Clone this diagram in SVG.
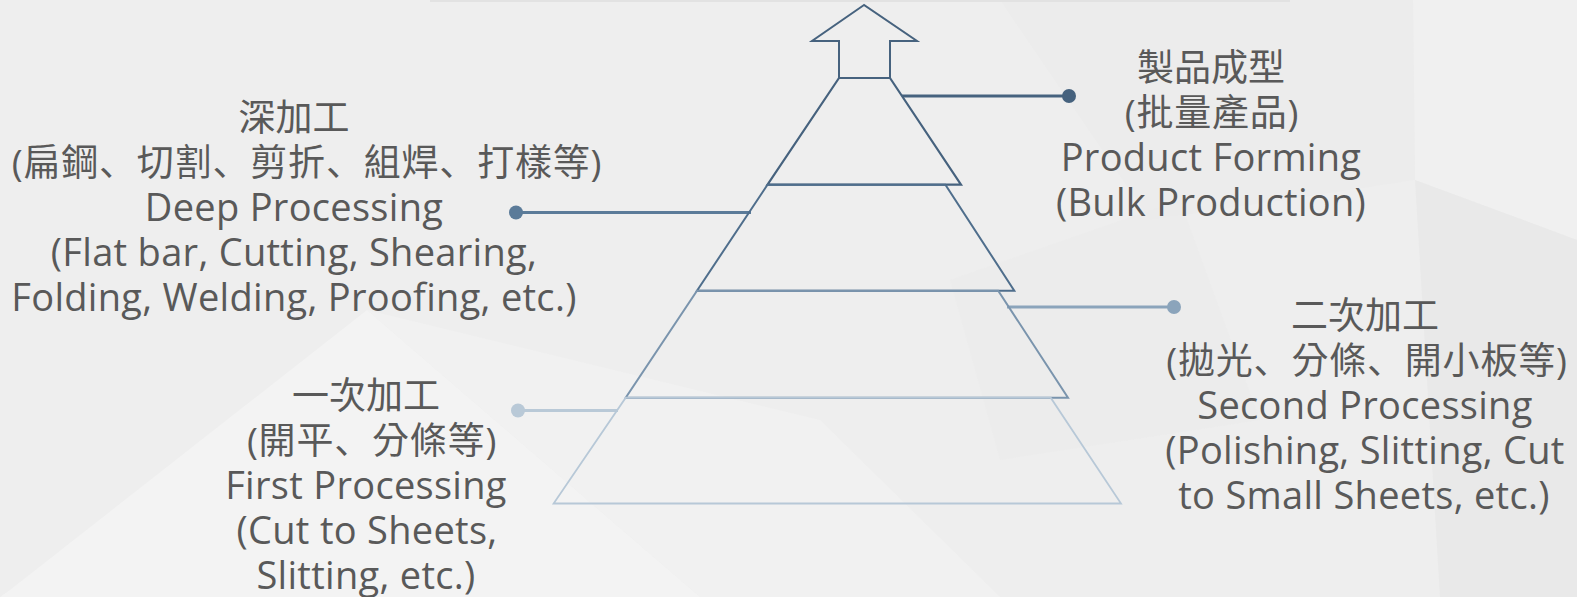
<svg xmlns="http://www.w3.org/2000/svg" width="1577" height="597" viewBox="0 0 1577 597">
<style>
.t{font-family:"Open Sans","Noto Sans CJK TC",sans-serif;font-size:37px;fill:#595959;text-anchor:middle}
.e{font-size:38px;letter-spacing:0.3px}
.c{letter-spacing:0.8px}
.p{font-family:"Noto Sans CJK JP",sans-serif}
.ly{fill:none;stroke-linejoin:miter}
.cn{fill:none;stroke-width:3}
</style>
<g id="background">
<rect x="0" y="0" width="1577" height="597" fill="#eeeeee"/>
<polygon points="0,597 10,590 367,310 700,597" fill="#f3f3f3"/>
<polygon points="367,310 700,597 1000,597 820,420" fill="#f1f1f1"/>
<polygon points="1413,0 1577,0 1577,240 1415,180" fill="#f0f0f0"/>
<polygon points="1415,180 1577,240 1577,597 1440,597" fill="#e9e9e9"/>
<polygon points="1000,0 1413,0 1415,180 1150,220" fill="#ececec"/>
<polygon points="950,280 1180,200 1260,420 1000,460" fill="#ebebeb" opacity="0.6"/>
<rect x="430" y="0" width="860" height="2" fill="#e2e2e2"/>
</g>
<g id="connectors">
<line class="cn" x1="902" y1="96" x2="1069" y2="96" stroke="#46627e"/>
<circle cx="1069" cy="96" r="7" fill="#46627e"/>
<line class="cn" x1="516" y1="212.5" x2="751" y2="212.5" stroke="#5b7b99"/>
<circle cx="516" cy="212.5" r="7" fill="#5b7b99"/>
<line class="cn" x1="1007" y1="307" x2="1174" y2="307" stroke="#8ba4bb"/>
<circle cx="1174" cy="307" r="7" fill="#8ba4bb"/>
<line class="cn" x1="518" y1="410.5" x2="618" y2="410.5" stroke="#b9c9d7"/>
<circle cx="518" cy="410.5" r="7" fill="#b9c9d7"/>
</g>
<g id="arrow">
<polygon class="ly" points="864,5 812,41 839,41 839,78 890,78 890,41 917,41" stroke="#46627e" stroke-width="2"/>
</g>
<g id="layer1">
<polygon class="ly" points="839,78 890,78 961,184.7 767.5,184.7" stroke="#46627e" stroke-width="2.2"/>
</g>
<g id="layer2">
<polygon class="ly" points="767.5,184.7 945.4,184.7 1014.3,290.7 697,290.7" stroke="#4f6e8c" stroke-width="2"/>
</g>
<g id="layer3">
<polygon class="ly" points="697,290.7 998.2,290.7 1068,397.7 625.7,397.7" stroke="#7a94ad" stroke-width="2"/>
</g>
<g id="layer4">
<polygon class="ly" points="625.7,397.7 1050.7,397.7 1121,503.5 553.6,503.5" stroke="#b7c8d7" stroke-width="1.8"/>
</g>
<g id="label-product">
<text class="t" x="1211" y="81">製品成型</text>
<text class="t c" x="1212" y="126">(批量產品)</text>
<text class="t e" x="1211" y="171">Product Forming</text>
<text class="t e" x="1211" y="216">(Bulk Production)</text>
</g>
<g id="label-deep">
<text class="t" x="294" y="131">深加工</text>
<text class="t c" x="307" y="176">(扁鋼<tspan class="p">、</tspan>切割<tspan class="p">、</tspan>剪折<tspan class="p">、</tspan>組焊<tspan class="p">、</tspan>打樣等)</text>
<text class="t e" x="294" y="221">Deep Processing</text>
<text class="t e" x="294" y="266">(Flat bar, Cutting, Shearing,</text>
<text class="t e" x="294" y="311">Folding, Welding, Proofing, etc.)</text>
</g>
<g id="label-second">
<text class="t" x="1365" y="329">二次加工</text>
<text class="t c" x="1367" y="374">(拋光<tspan class="p">、</tspan>分條<tspan class="p">、</tspan>開小板等)</text>
<text class="t e" x="1365" y="419">Second Processing</text>
<text class="t e" x="1365" y="464">(Polishing, Slitting, Cut</text>
<text class="t e" x="1364" y="509">to Small Sheets, etc.)</text>
</g>
<g id="label-first">
<text class="t" x="366" y="409">一次加工</text>
<text class="t c" x="372" y="454">(開平<tspan class="p">、</tspan>分條等)</text>
<text class="t e" x="366" y="499">First Processing</text>
<text class="t e" x="367" y="544">(Cut to Sheets,</text>
<text class="t e" x="366" y="589">Slitting, etc.)</text>
</g>
</svg>
